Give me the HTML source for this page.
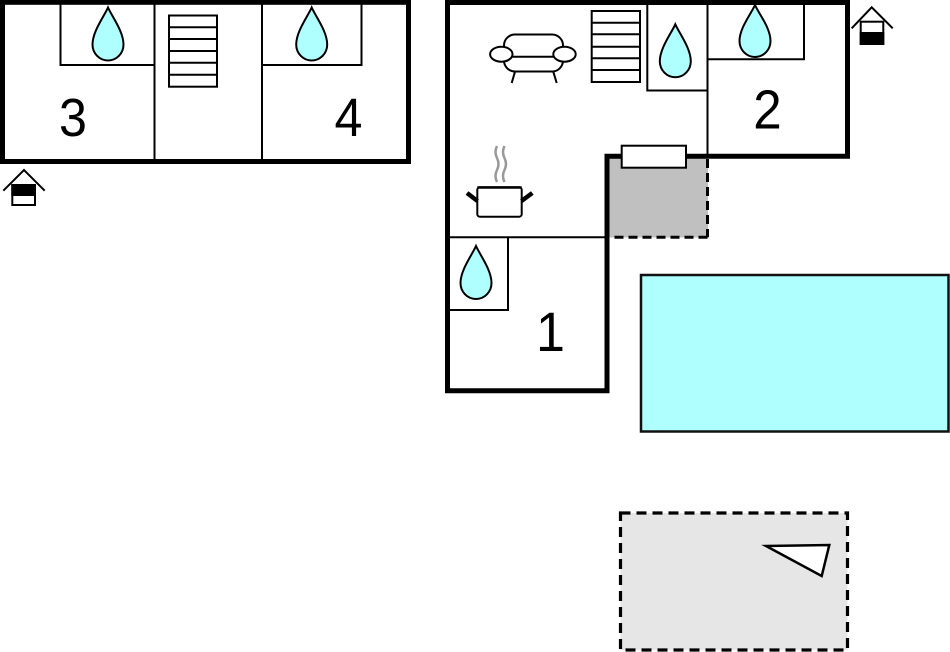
<!DOCTYPE html>
<html>
<head>
<meta charset="utf-8">
<style>
html,body{margin:0;padding:0;background:#fff;}
svg{display:block;}
text{font-family:"Liberation Sans",Arial,sans-serif;}
</style>
</head>
<body>
<svg width="950" height="652" viewBox="0 0 950 652" xmlns="http://www.w3.org/2000/svg">
  <rect width="950" height="652" fill="#fff"/>

  <!-- LEFT BUILDING -->
  <rect x="2.5" y="2.3" width="406" height="159.2" fill="#fff" stroke="#000" stroke-width="5"/>
  <g stroke="#000" stroke-width="2" fill="none">
    <line x1="154.5" y1="2" x2="154.5" y2="160"/>
    <line x1="262" y1="2" x2="262" y2="160"/>
    <polyline points="60.5,2 60.5,65 154.5,65"/>
    <polyline points="262,65 361.5,65 361.5,2"/>
    <!-- stairs -->
    <rect x="169" y="15.5" width="48" height="71.2" fill="#fff"/>
    <line x1="169" y1="27.3" x2="217" y2="27.3"/>
    <line x1="169" y1="39" x2="217" y2="39"/>
    <line x1="169" y1="51" x2="217" y2="51"/>
    <line x1="169" y1="62.7" x2="217" y2="62.7"/>
    <line x1="169" y1="74.7" x2="217" y2="74.7"/>
  </g>
  <!-- drops -->
  <g fill="#b0ffff" stroke="#000" stroke-width="2">
    <path transform="translate(108,7.5)" d="M0,0 C4,9 15.5,24 15.5,37 A15.5,16 0 0 1 -15.5,37 C-15.5,24 -4,9 0,0 Z"/>
    <path transform="translate(311.7,7.5)" d="M0,0 C4,9 15.5,24 15.5,37 A15.5,16 0 0 1 -15.5,37 C-15.5,24 -4,9 0,0 Z"/>
    <path transform="translate(675.3,24.3)" d="M0,0 C4,9 15.5,24 15.5,37 A15.5,16 0 0 1 -15.5,37 C-15.5,24 -4,9 0,0 Z"/>
    <path transform="translate(755,5)" d="M0,0 C4,9 15.5,23 15.5,36 A15.5,16 0 0 1 -15.5,36 C-15.5,23 -4,9 0,0 Z"/>
    <path transform="translate(476,246)" d="M0,0 C4,9 15.5,24 15.5,37 A15.5,16 0 0 1 -15.5,37 C-15.5,24 -4,9 0,0 Z"/>
  </g>
  <text transform="translate(73,136) scale(0.93,1)" x="0" y="0" font-size="54" text-anchor="middle" fill="#000">3</text>
  <text transform="translate(348.5,136) scale(0.93,1)" x="0" y="0" font-size="54" text-anchor="middle" fill="#000">4</text>

  <!-- house icon left -->
  <g stroke="#000" stroke-width="2">
    <polyline points="3.3,190.7 24,170 44.7,190.7" fill="none"/>
    <rect x="12.3" y="185" width="22.7" height="20" fill="#fff"/>
    <rect x="12.3" y="185" width="22.7" height="10" fill="#000"/>
  </g>

  <!-- RIGHT BUILDING -->
  <!-- gray area -->
  <rect x="609" y="158" width="99" height="79.5" fill="#c0c0c0"/>
  <g stroke="#000" stroke-width="3" stroke-dasharray="9 5" fill="none">
    <line x1="707.5" y1="159" x2="707.5" y2="237.3"/>
    <line x1="707.5" y1="237.3" x2="609" y2="237.3"/>
  </g>
  <!-- thin inner walls -->
  <g stroke="#000" stroke-width="2" fill="none">
    <line x1="707.5" y1="2" x2="707.5" y2="156"/>
    <polyline points="647.3,2 647.3,90.5 707.5,90.5"/>
    <polyline points="707.5,59.3 804,59.3 804,2"/>
    <line x1="447.5" y1="237.3" x2="607" y2="237.3"/>
    <polyline points="508,237.3 508,310 447.5,310"/>
  </g>
  <!-- outer thick wall -->
  <path d="M447.5,2.5 L847.5,2.5 L847.5,156.3 L607,156.3 L607,390.8 L447.5,390.8 Z" fill="none" stroke="#000" stroke-width="5" stroke-linejoin="miter"/>
  <!-- window -->
  <rect x="621.7" y="145.7" width="64.3" height="22" fill="#fff" stroke="#000" stroke-width="2"/>

  <!-- stairs right -->
  <g stroke="#000" stroke-width="2" fill="none">
    <rect x="591.7" y="11" width="48.3" height="71" fill="#fff"/>
    <line x1="591.7" y1="22.7" x2="640" y2="22.7"/>
    <line x1="591.7" y1="34.3" x2="640" y2="34.3"/>
    <line x1="591.7" y1="46.7" x2="640" y2="46.7"/>
    <line x1="591.7" y1="58.3" x2="640" y2="58.3"/>
    <line x1="591.7" y1="70" x2="640" y2="70"/>
  </g>

  <!-- sofa -->
  <g stroke="#000" stroke-width="2" fill="#fff">
    <rect x="504" y="34.5" width="59" height="37" rx="11"/>
    <line x1="510" y1="56.7" x2="557" y2="56.7"/>
    <ellipse cx="501.3" cy="54.2" rx="11.2" ry="7.5"/>
    <ellipse cx="564.5" cy="54.2" rx="11.2" ry="7.5"/>
    <line x1="515" y1="71.7" x2="511.7" y2="83"/>
    <line x1="553.3" y1="71.7" x2="556.7" y2="83"/>
  </g>

  <!-- pot -->
  <g fill="none" stroke="#999" stroke-width="2.5">
    <path d="M497,146 q-3,6 0,12 q3,6 0,12 q-3,6 0,12"/>
    <path d="M504.5,146 q-3,6 0,12 q3,6 0,12 q-3,6 0,12"/>
  </g>
  <g stroke="#000">
    <rect x="477.3" y="187.3" width="44.4" height="29.4" rx="2.5" fill="#fff" stroke-width="2"/>
    <line x1="477.3" y1="187.5" x2="521.7" y2="187.5" stroke-width="2.5"/>
    <line x1="467" y1="193" x2="477.5" y2="201" stroke-width="4.5"/>
    <line x1="521.5" y1="201" x2="532.3" y2="193" stroke-width="4.5"/>
  </g>

  <text transform="translate(767.5,128.3) scale(0.93,1)" x="0" y="0" font-size="55" text-anchor="middle" fill="#000">2</text>
  <text transform="translate(550.5,351) scale(0.93,1)" x="0" y="0" font-size="56" text-anchor="middle" fill="#000">1</text>

  <!-- house icon right -->
  <g stroke="#000" stroke-width="2">
    <polyline points="851.7,28.3 871.7,7.3 892.7,28.3" fill="none"/>
    <rect x="860.7" y="21.7" width="22.6" height="22.3" fill="#fff"/>
    <rect x="860.7" y="33" width="22.6" height="11" fill="#000"/>
  </g>

  <!-- POOL -->
  <rect x="641" y="275" width="307.5" height="156.5" fill="#b0ffff" stroke="#111" stroke-width="2.5"/>

  <!-- TERRACE -->
  <rect x="620.5" y="513" width="227" height="137" fill="#e6e6e6" stroke="#000" stroke-width="3.2" stroke-dasharray="10 6"/>
  <polygon points="766,546 829.3,545 821.7,576" fill="#fff" stroke="#000" stroke-width="2.5" stroke-linejoin="miter"/>
</svg>
</body>
</html>
